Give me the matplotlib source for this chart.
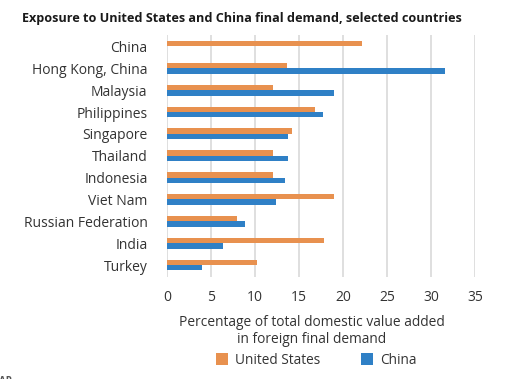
import numpy as np
import matplotlib.pyplot as plt

plt.rcParams['font.family'] = ['Open Sans', 'DejaVu Sans']

countries = ['China', 'Hong Kong, China', 'Malaysia', 'Philippines', 'Singapore',
             'Thailand', 'Indonesia', 'Viet Nam', 'Russian Federation', 'India', 'Turkey']
us_vals = [22.1, 13.6, 12.0, 16.8, 14.25, 12.0, 12.05, 19.0, 7.9, 17.8, 10.2]
china_vals = [0, 31.6, 19.0, 17.7, 13.8, 13.75, 13.4, 12.4, 8.9, 6.4, 4.0]

orange = '#E8914F'
blue = '#2F80C6'
txt = '#333333'

fig = plt.figure(figsize=(5.1, 3.79), dpi=100)
ax = fig.add_axes([0.3275, 0.269, 0.604, 0.639])

y = np.arange(len(countries))
h = 0.25
ax.barh(y - h / 2, us_vals, height=h, color=orange, label='United States', zorder=3)
ax.barh(y + h / 2, china_vals, height=h, color=blue, label='China', zorder=3)

ax.set_xlim(0, 35)
ax.set_ylim(10.55, -0.53)
ax.set_xticks(range(0, 36, 5))
ax.set_yticks(y)
ax.set_yticklabels(countries)
ax.grid(axis='x', color='#d9d9d9', linewidth=1.2, zorder=0)
for s in ax.spines.values():
    s.set_visible(False)
ax.tick_params(length=0, labelsize=10, colors=txt)
ax.tick_params(axis='y', pad=14)
ax.tick_params(axis='x', pad=9)

ax.set_xlabel('Percentage of total domestic value added\nin foreign final demand',
              fontsize=9.9, color=txt, linespacing=1.2)
ax.xaxis.set_label_coords(0.47, -0.155)

fig.text(0.043, 0.952, 'Exposure to United States and China final demand, selected countries',
         fontsize=9.1, fontweight='bold', color='#1a1a1a', va='center')

leg = fig.legend(loc='center', bbox_to_anchor=(0.62, 0.05), ncol=2, frameon=False,
                 fontsize=9.8, handlelength=0.9, handleheight=0.9, columnspacing=3.0,
                 handletextpad=0.5)
for t in leg.get_texts():
    t.set_color(txt)

fig.text(-0.002, -0.012, 'AR', fontsize=7, fontweight='bold', color='#555555')

fig.savefig('out.png', dpi=100)
plt.close()
